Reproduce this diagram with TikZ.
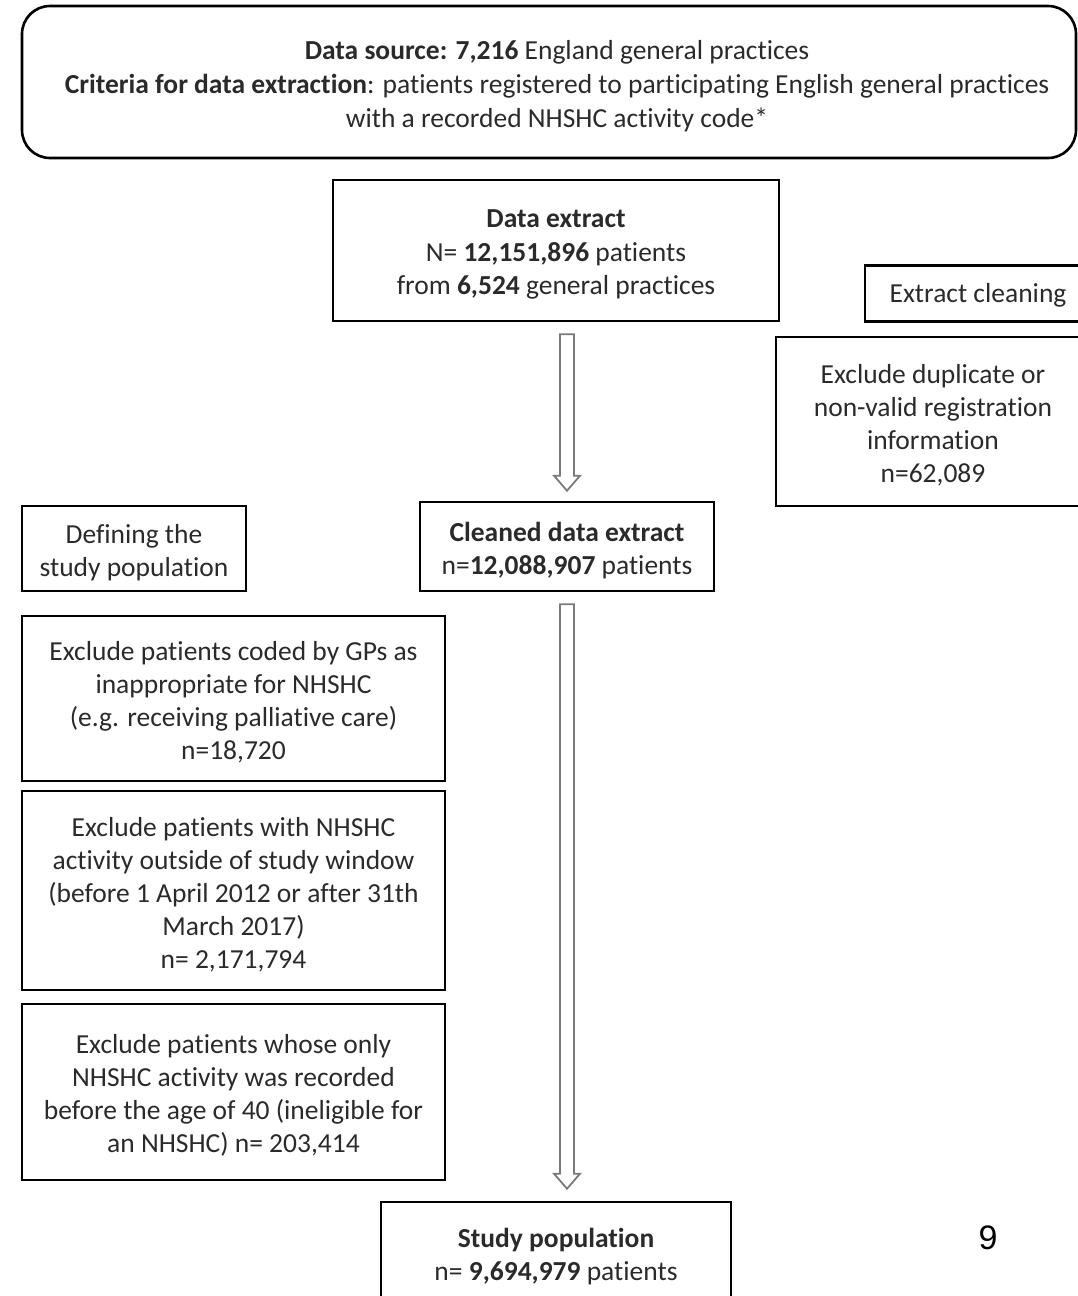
\documentclass[tikz,border=0pt]{standalone}
\usepackage{fontspec}
\setmainfont{Carlito}[Ligatures=NoCommon]
\newfontfamily\arialfont{Liberation Sans}
\usetikzlibrary{calc}
\definecolor{txt}{HTML}{2A2A2A}
\definecolor{arrowgray}{HTML}{7A7A7A}
\newcommand{\topstrut}{\rule{0pt}{26.5pt}}
\begin{document}
\begin{tikzpicture}[x=1pt,y=-1pt,
  box/.style={draw=black, line width=2.6pt, align=center, inner sep=0pt,
    font=\fontsize{27.5}{33}\selectfont, text=txt},
  hollow/.style={draw=arrowgray, line width=1.8pt, fill=white, line join=miter}]
\useasboundingbox (0,0) rectangle (1078,1296);

\node[box, rounded corners=28pt, minimum width=1054, minimum height=152,
      font=\fontsize{27.5}{34}\selectfont] (src) at (549,82)
  {\topstrut\hspace*{16pt}\textbf{Data source: 7,216} England general practices\\
   \hspace*{16pt}\textbf{Criteria for data extraction}: patients registered to participating English general practices\\
   \hspace*{16pt}with a recorded NHSHC activity code*};

\node[box, minimum width=446, minimum height=141, font=\fontsize{27.5}{33.5}\selectfont] (de) at (556,250.5)
  {\topstrut\textbf{Data extract}\\N= \textbf{12,151,896} patients\\from \textbf{6,524} general practices};

\node[box, minimum width=226, minimum height=56] (ec) at (978,293.5) {\rule{0pt}{23pt}Extract cleaning};

\node[box, minimum width=314, minimum height=169] (dup) at (933,421.5)
  {\topstrut Exclude duplicate or\\non-valid registration\\information\\n=62,089};

\node[box, minimum width=294, minimum height=89] (clean) at (567,546.5)
  {\topstrut\textbf{Cleaned data extract}\\n=\textbf{12,088,907} patients};

\node[box, minimum width=224, minimum height=85] (def) at (134,548.5)
  {\topstrut Defining the\\study population};

\node[box, minimum width=423, minimum height=165] (gp) at (233.5,698.5)
  {\topstrut Exclude patients coded by GPs as\\inappropriate for NHSHC\\(e.g. receiving palliative care)\\n=18,720};

\node[box, minimum width=423, minimum height=199] (win) at (233.5,890.5)
  {\topstrut Exclude patients with NHSHC\\activity outside of study window\\(before 1 April 2012 or after 31th\\March 2017)\\n= 2,171,794};

\node[box, minimum width=423, minimum height=176] (age) at (233.5,1092)
  {\topstrut Exclude patients whose only\\NHSHC activity was recorded\\before the age of 40 (ineligible for\\an NHSHC) n= 203,414};

\node[box, minimum width=350, minimum height=102] (study) at (556,1253)
  {\topstrut\textbf{Study population}\\n= \textbf{9,694,979} patients};

\node[font=\arialfont\fontsize{34}{40}\selectfont, text=black, inner sep=0pt] (pg) at (988,1238) {9};

\draw[hollow] let \p1=(de.south), \p2=(clean.north) in
  (\x2-7pt,\y1-12pt) -- (\x2+7pt,\y1-12pt) -- (\x2+7pt,\y2+25pt) -- (\x2+13pt,\y2+25pt)
  -- (\x2,\y2+10pt) -- (\x2-13pt,\y2+25pt) -- (\x2-7pt,\y2+25pt) -- cycle;

\draw[hollow] let \p1=(clean.south), \p2=(study.north) in
  (\x1-7pt,\y1-12pt) -- (\x1+7pt,\y1-12pt) -- (\x1+7pt,\y2+27pt) -- (\x1+13pt,\y2+27pt)
  -- (\x1,\y2+12pt) -- (\x1-13pt,\y2+27pt) -- (\x1-7pt,\y2+27pt) -- cycle;
\end{tikzpicture}
\end{document}
